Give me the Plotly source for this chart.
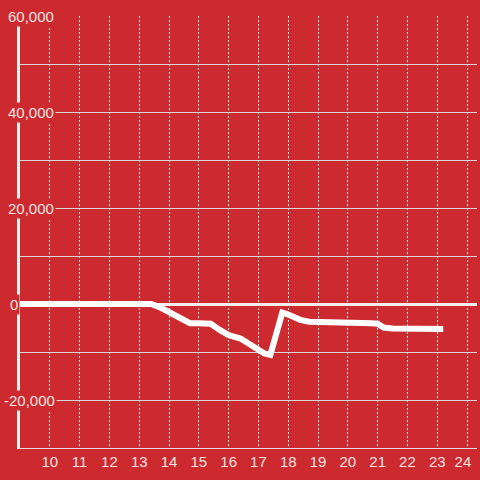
import plotly.graph_objects as go

# data
hours = [9, 13.4, 13.7, 14.0, 14.4, 14.7, 15.0, 15.4, 15.7, 16.0, 16.4, 16.7, 17.0, 17.2, 17.4,
         17.8, 18.0, 18.4, 18.7, 19.0, 19.5, 20.0, 20.5, 20.8, 21.0, 21.2, 21.5, 22.0, 22.5, 23.0, 23.2]
values = [0, 0, -700, -1600, -2800, -4000, -4000, -4100, -5400, -6500, -7200, -8300, -9500, -10300, -10600,
          -1800, -2200, -3300, -3700, -3700, -3700, -3700, -3700, -4000, -4100, -4900, -5100, -5100, -5200, -5200, -5200]
x_ticks = list(range(10, 25))
x_tick_labels = [str(t) for t in x_ticks]
y_ticks = [60000, 40000, 20000, 0, -20000]
y_tick_labels = ["60,000", "40,000", "20,000", "0", "-20,000"]

BG = "#cc2a2f"
TXT = "#f3e2e2"
FONT = "Liberation Sans, Arial"

W = H = 480
ML, MR, MT, MB = 20, 0, 16, 32
plot_w = W - ML - MR

# label left positions in pixels (label offsets, not data)
label_left_px = {"60,000": 6, "40,000": 6, "20,000": 6, "0": 8, "-20,000": 2}

fig = go.Figure()
fig.add_trace(go.Scatter(x=hours, y=values, mode="lines",
                         line=dict(color="white", width=6), hoverinfo="skip"))

annotations = []
for v, lab in zip(y_ticks, y_tick_labels):
    px = label_left_px[lab]
    annotations.append(dict(x=(px - ML) / plot_w, y=v, xref="paper", yref="y", text=lab,
                            showarrow=False, xanchor="left", yanchor="middle",
                            font=dict(family=FONT, size=15, color=TXT),
                            bgcolor=BG, borderpad=1))

shown_x_labels = x_tick_labels[:-1] + [x_tick_labels[-1] + "\u00a0\u00a0"]

fig.update_layout(
    width=W, height=H,
    margin=dict(l=ML, r=MR, t=MT, b=MB),
    paper_bgcolor=BG, plot_bgcolor=BG,
    showlegend=False,
    font=dict(family=FONT, size=15, color=TXT),
    annotations=annotations,
    xaxis=dict(range=[9, 24.333], tickmode="array", tickvals=x_ticks, ticktext=shown_x_labels,
               showgrid=True, gridcolor="#eeeeee", griddash="2px,2px", gridwidth=1,
               showline=True, linecolor="#dddddd", linewidth=1,
               zeroline=False, ticks="", ticklabelstandoff=0, ticklabeloverflow="allow",
               tickfont=dict(family=FONT, size=15, color=TXT)),
    yaxis=dict(range=[-30000, 60000], tickmode="array",
               tickvals=list(range(-30000, 60001, 10000)),
               showticklabels=False, showgrid=True, gridcolor="#d6d6d6", gridwidth=1,
               zeroline=True, zerolinecolor="#f2eeee", zerolinewidth=3,
               showline=True, linecolor="#f2eeee", linewidth=3, ticks=""),
)

fig.write_html("out.html", config={"displayModeBar": False},
               post_script="document.body.style.margin='0';document.body.style.overflow='hidden';")
